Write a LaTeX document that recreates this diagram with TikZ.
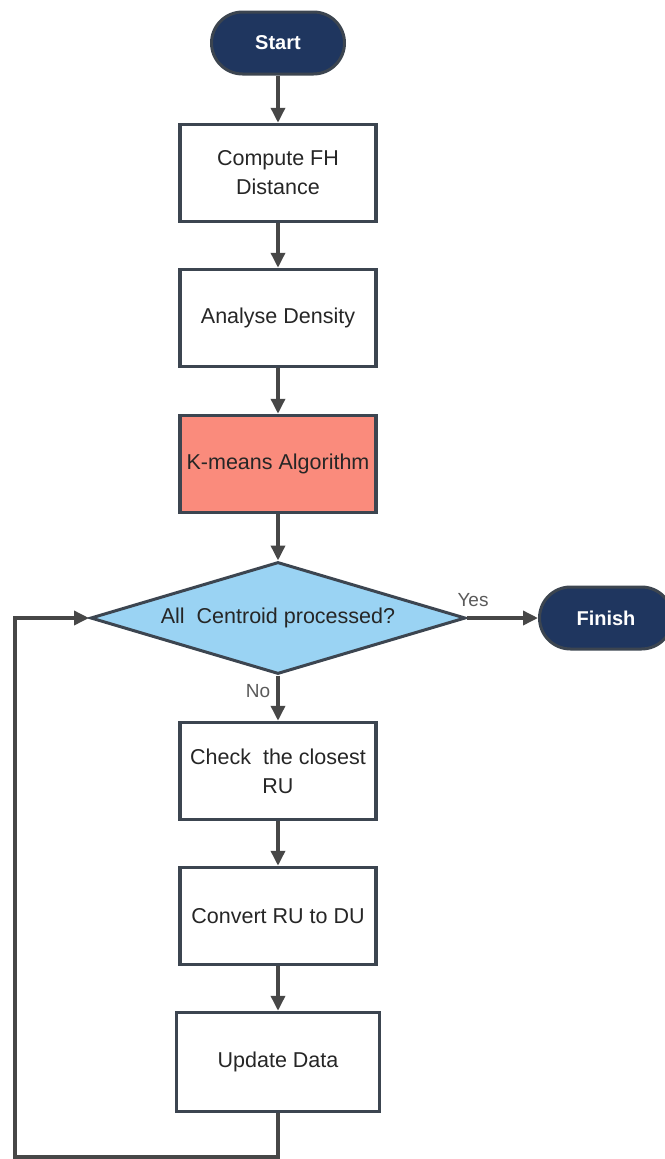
\documentclass[tikz,border=0pt]{standalone}
\usepackage{fontspec}
\setmainfont{Liberation Sans}
\usepackage{xcolor}
\usepackage{tikz}
\usetikzlibrary{arrows.meta,positioning,shapes.geometric}
\definecolor{navyT}{HTML}{1F365F}
\definecolor{edgeG}{HTML}{3C4550}
\definecolor{arrowG}{HTML}{474747}
\definecolor{kmeansR}{HTML}{FA8B7C}
\definecolor{decideB}{HTML}{9AD3F3}

\begin{document}
\begin{tikzpicture}[x=1pt, y=-1pt,
    terminal/.style={rectangle, rounded corners=31pt, fill=navyT, draw=edgeG, line width=3pt,
      minimum width=133pt, minimum height=62pt, text=white, font=\fontsize{20}{24}\selectfont\bfseries},
    procbox/.style={rectangle, fill=white, draw=edgeG, line width=3.5pt, align=center,
      minimum width=196pt, minimum height=97pt, text=black!85, font=\fontsize{21.5}{29}\selectfont},
    decide/.style={diamond, shape aspect=2.63, fill=decideB, draw=edgeG, line width=3pt, inner sep=0pt,
      minimum width=375pt, minimum height=112pt, text=black!85, font=\fontsize{21.5}{26}\selectfont},
    flow/.style={draw=arrowG, line width=3.5pt, -{Triangle[length=15pt,width=14pt]}},
    branch/.style={text=arrowG!90, font=\fontsize{19}{22}\selectfont}]
      \useasboundingbox (0,0) rectangle (664,1159);
      % Terminals
      \node[terminal] (start) at (278,43) {Start};
      \node[terminal] (finish) at (606,618) {Finish};
      % Process steps
      \node[procbox] (fhdist) at (278,173) {Compute FH\\Distance};
      \node[procbox] (density) at (278,318) {Analyse Density};
      \node[procbox, fill=kmeansR] (kmeans) at (278,464) {K-means Algorithm};
      \node[decide] (allcent) at (278,618) {All\ \ Centroid processed?};
      \node[procbox] (closest) at (278,771) {Check\ \ the closest\\RU};
      \node[procbox] (convert) at (278,916) {Convert RU to DU};
      \node[procbox, minimum width=203pt, minimum height=99pt] (update) at (278,1062) {Update Data};
      % Main flow
      \draw[flow] (start) -- (fhdist);
      \draw[flow] (fhdist) -- (density);
      \draw[flow] (density) -- (kmeans);
      \draw[flow] (kmeans) -- (allcent);
      \draw[flow] (allcent) -- (closest);
      \draw[flow] (closest) -- (convert);
      \draw[flow] (convert) -- (update);
      \draw[flow] (allcent) -- (finish);
      % Branch labels
      \node[branch] (yeslbl) at (473,600) {Yes};
      \node[branch] (nolbl) at (258,691) {No};
      % Loop back to the decision
      \coordinate (loopbase) at (15,1157);
      \draw[flow] (update.south) |- (loopbase) |- (allcent.west);
    \end{tikzpicture}
\end{document}
